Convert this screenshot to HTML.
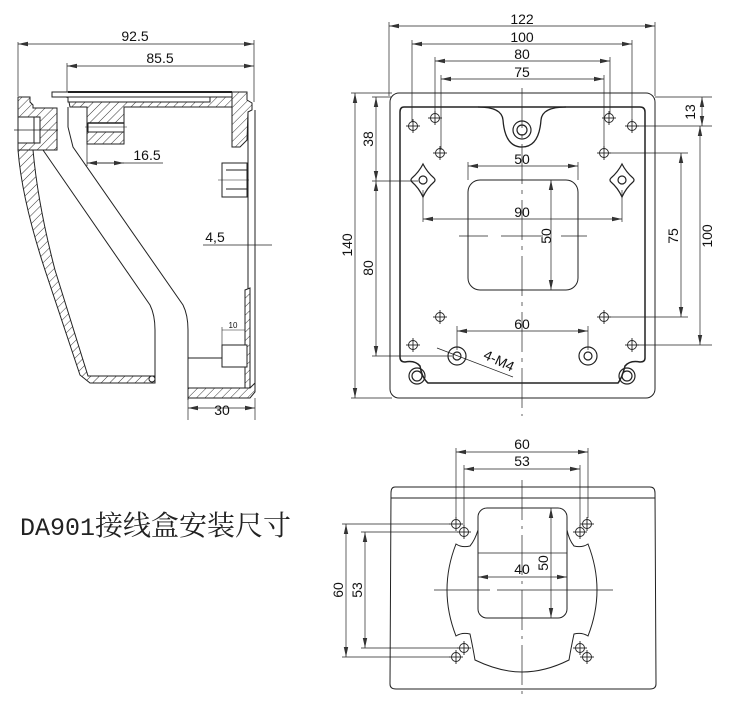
<!DOCTYPE html>
<html><head><meta charset="utf-8"><style>
html,body{margin:0;padding:0;background:#fff;width:730px;height:717px;overflow:hidden}
svg{display:block}
text{font-family:"Liberation Sans",sans-serif;font-size:14px;fill:#111}
</style></head><body>
<svg width="730" height="717" viewBox="0 0 730 717" xmlns="http://www.w3.org/2000/svg">
<defs>
<pattern id="h" width="6" height="6" patternUnits="userSpaceOnUse" patternTransform="rotate(45)">
<rect width="6" height="6" fill="#fff"/><line x1="0" y1="0" x2="0" y2="6" stroke="#222" stroke-width="0.9"/></pattern>
<marker id="a" markerWidth="10" markerHeight="6" refX="10" refY="3" orient="auto-start-reverse" markerUnits="userSpaceOnUse"><path d="M0,0.8 L10,3 L0,5.2" fill="#333"/></marker>
<g id="hl" stroke="#222" stroke-width="0.9" fill="none"><circle r="4.5"/><line x1="-7" y1="0" x2="7" y2="0"/><line x1="0" y1="-7" x2="0" y2="7"/></g>
</defs>
<g stroke="#222" stroke-width="1" fill="none">
<!-- ===== LEFT SIDE VIEW ===== -->
<line x1="18" y1="42" x2="18" y2="96" stroke-width="0.7"/>
<line x1="67" y1="63" x2="67" y2="98" stroke-width="0.7"/>
<line x1="254" y1="40" x2="254" y2="102" stroke-width="0.7"/>
<line x1="18" y1="44" x2="254" y2="44" marker-start="url(#a)" marker-end="url(#a)" stroke-width="0.7"/>
<line x1="67" y1="66" x2="254" y2="66" marker-start="url(#a)" marker-end="url(#a)" stroke-width="0.7"/>
<rect x="52" y="92" width="180" height="5" fill="#fff"/>
<line x1="68" y1="92" x2="232" y2="92" stroke-width="2"/>
<path d="M18,97 L30,97 L30,102 L33,105 L33,108 L57,108 L57,150 L18,150 Z" fill="url(#h)"/>
<rect x="18" y="117" width="22" height="26" fill="#fff"/>
<line x1="34" y1="117" x2="34" y2="143"/>
<line x1="14" y1="130" x2="58" y2="130" stroke-width="0.7"/>
<path d="M18,150 Q22,200 45,270 L80,375 L90,383 L155,383 L155,376 L88,376 L55,270 Q38,205 33,150 Z" fill="url(#h)"/>
<circle cx="152" cy="379" r="3" fill="#fff"/>
<path d="M43,150 L150,305 Q155,315 155,330 L155,376"/>
<path d="M68,97 L232,97 L232,107 L124,107 L124,144 L87,144 L87,107 L70,107 Z" fill="url(#h)"/>
<rect x="68" y="97" width="142" height="5" fill="#fff"/>
<line x1="68" y1="102" x2="210" y2="102"/>
<rect x="88" y="123" width="36" height="9" fill="#fff"/>
<line x1="88" y1="123" x2="124" y2="123" stroke-width="1.5"/>
<line x1="85" y1="127" x2="127" y2="127" stroke-width="0.6"/>
<path d="M68,107 L68,127 L73,147 L183,305 Q188,315 188,330 L188,400"/>
<path d="M232,92 L247,92 L247,100 L252,103 L252,110 L248,112 L247,140 L240,147 L232,147 Z" fill="url(#h)"/>
<line x1="248" y1="112" x2="248" y2="387"/>
<line x1="255" y1="110" x2="255" y2="385"/>
<path d="M245,290 L250,288 L250,397 L245,397 Z" fill="url(#h)"/>
<path d="M188,388 L250,388 L255,383 L255,392 L250,398 L188,398 Z" fill="url(#h)"/>
<rect x="222" y="163" width="25" height="34" fill="#fff"/>
<line x1="226" y1="170" x2="247" y2="170"/><line x1="226" y1="189" x2="247" y2="189"/>
<line x1="218" y1="180" x2="249" y2="180" stroke-width="0.6"/>
<rect x="222" y="345" width="25" height="22" fill="#fff"/>
<line x1="188" y1="358" x2="222" y2="358"/>
<line x1="222" y1="327" x2="222" y2="345" stroke-width="0.6"/>
<line x1="222" y1="330" x2="245" y2="330" stroke-width="0.6"/>
<line x1="87" y1="144" x2="87" y2="166" stroke-width="0.7"/>
<line x1="87" y1="163" x2="163" y2="163" stroke-width="0.7"/>
<line x1="87" y1="163" x2="124" y2="163" marker-start="url(#a)" marker-end="url(#a)" stroke-width="0.7"/>
<line x1="203" y1="245" x2="272" y2="245" stroke-width="0.7"/>
<line x1="188" y1="398" x2="188" y2="420" stroke-width="0.7"/>
<line x1="255" y1="398" x2="255" y2="420" stroke-width="0.7"/>
<line x1="188" y1="408" x2="255" y2="408" marker-start="url(#a)" marker-end="url(#a)" stroke-width="0.7"/>

<!-- ===== TOP RIGHT VIEW ===== -->
<g stroke-width="0.7">
<line x1="389" y1="22" x2="389" y2="96"/><line x1="655" y1="22" x2="655" y2="96"/>
<line x1="389" y1="26" x2="655" y2="26" marker-start="url(#a)" marker-end="url(#a)"/>
<line x1="412" y1="40" x2="412" y2="122"/><line x1="632" y1="40" x2="632" y2="122"/>
<line x1="412" y1="44" x2="632" y2="44" marker-start="url(#a)" marker-end="url(#a)"/>
<line x1="435" y1="57" x2="435" y2="114"/><line x1="610" y1="57" x2="610" y2="114"/>
<line x1="435" y1="61" x2="610" y2="61" marker-start="url(#a)" marker-end="url(#a)"/>
<line x1="441" y1="75" x2="441" y2="150"/><line x1="604" y1="75" x2="604" y2="150"/>
<line x1="441" y1="79" x2="604" y2="79" marker-start="url(#a)" marker-end="url(#a)"/>
<line x1="351" y1="93" x2="392" y2="93"/><line x1="351" y1="398" x2="392" y2="398"/>
<line x1="355" y1="93" x2="355" y2="398" marker-start="url(#a)" marker-end="url(#a)"/>
<line x1="372" y1="97" x2="392" y2="97"/>
<line x1="372" y1="181" x2="418" y2="181"/>
<line x1="372" y1="356" x2="452" y2="356"/>
<line x1="376" y1="97" x2="376" y2="181" marker-start="url(#a)" marker-end="url(#a)"/>
<line x1="376" y1="181" x2="376" y2="356" marker-start="url(#a)" marker-end="url(#a)"/>
<line x1="655" y1="97" x2="712" y2="97"/>
<line x1="637" y1="126" x2="712" y2="126"/>
<line x1="609" y1="153" x2="688" y2="153"/>
<line x1="609" y1="317" x2="688" y2="317"/>
<line x1="637" y1="345" x2="712" y2="345"/>
<line x1="702" y1="97" x2="702" y2="126" marker-start="url(#a)" marker-end="url(#a)"/>
<line x1="700" y1="126" x2="700" y2="345" marker-start="url(#a)" marker-end="url(#a)"/>
<line x1="681" y1="153" x2="681" y2="317" marker-start="url(#a)" marker-end="url(#a)"/>
<line x1="468" y1="162" x2="468" y2="180"/><line x1="578" y1="162" x2="578" y2="180"/>
<line x1="468" y1="166" x2="578" y2="166" marker-start="url(#a)" marker-end="url(#a)"/>
<line x1="423" y1="190" x2="423" y2="222"/><line x1="622" y1="190" x2="622" y2="222"/>
<line x1="423" y1="219" x2="622" y2="219" marker-start="url(#a)" marker-end="url(#a)"/>
<line x1="551" y1="180" x2="551" y2="290" marker-start="url(#a)" marker-end="url(#a)"/>
<line x1="457" y1="326" x2="457" y2="350"/><line x1="588" y1="326" x2="588" y2="350"/>
<line x1="457" y1="331" x2="588" y2="331" marker-start="url(#a)" marker-end="url(#a)"/>
<line x1="437" y1="348" x2="513" y2="377"/>
<line x1="522" y1="88" x2="522" y2="416" stroke-dasharray="40,6,4,6"/>
<line x1="459" y1="236" x2="488" y2="236"/><line x1="501" y1="236" x2="543" y2="236"/><line x1="561" y1="236" x2="587" y2="236"/>
</g>
<rect x="390" y="93" width="265" height="305" rx="9"/>
<path d="M404,107 L640,107 Q645,107 645,112 L645,358 Q645,362 640,362 Q630,360 625,366 Q622,378 618,383 L428,383 Q422,378 420,366 Q415,360 405,362 Q400,362 400,357 L400,112 Q400,107 404,107 Z" stroke-width="1.5"/>
<path d="M478,107 Q502,107 503,120 Q505,147 522,147 Q539,147 541,120 Q542,107 566,107" stroke-width="1.3"/>
<rect x="468" y="180" width="110" height="110" rx="12"/>
<g stroke-width="1.2">
<circle cx="522" cy="130" r="9"/><circle cx="522" cy="130" r="5"/>
<circle cx="417" cy="376" r="8"/><circle cx="417" cy="376" r="5"/>
<circle cx="627" cy="376" r="8"/><circle cx="627" cy="376" r="5"/>
<circle cx="457" cy="356" r="9"/><circle cx="457" cy="356" r="4"/>
<circle cx="588" cy="356" r="9"/><circle cx="588" cy="356" r="4"/>
<path d="M423,164 Q427,172 434,178 Q436,180 434,182 Q427,188 423,197 Q419,188 412,182 Q410,180 412,178 Q419,172 423,164Z"/><circle cx="423" cy="180" r="4"/>
<path d="M622,164 Q626,172 633,178 Q635,180 633,182 Q626,188 622,197 Q618,188 611,182 Q609,180 611,178 Q618,172 622,164Z"/><circle cx="622" cy="180" r="4"/>
</g>
<use href="#hl" x="413" y="126"/><use href="#hl" x="435" y="118"/><use href="#hl" x="440" y="153"/>
<use href="#hl" x="609" y="118"/><use href="#hl" x="632" y="126"/><use href="#hl" x="604" y="153"/>
<use href="#hl" x="440" y="317"/><use href="#hl" x="604" y="317"/>
<use href="#hl" x="413" y="345"/><use href="#hl" x="632" y="345"/>
<use href="#hl" x="456" y="524"/><use href="#hl" x="464" y="532"/>
<use href="#hl" x="587" y="524"/><use href="#hl" x="580" y="532"/>
<use href="#hl" x="464" y="648"/><use href="#hl" x="456" y="657"/>
<use href="#hl" x="580" y="648"/><use href="#hl" x="587" y="657"/>

<!-- ===== BOTTOM VIEW ===== -->
<g stroke-width="0.7">
<line x1="456" y1="448" x2="456" y2="518"/><line x1="588" y1="448" x2="588" y2="518"/>
<line x1="456" y1="452" x2="588" y2="452" marker-start="url(#a)" marker-end="url(#a)"/>
<line x1="464" y1="465" x2="464" y2="526"/><line x1="580" y1="465" x2="580" y2="526"/>
<line x1="464" y1="469" x2="580" y2="469" marker-start="url(#a)" marker-end="url(#a)"/>
<line x1="342" y1="524" x2="450" y2="524"/><line x1="342" y1="657" x2="450" y2="657"/>
<line x1="346" y1="524" x2="346" y2="657" marker-start="url(#a)" marker-end="url(#a)"/>
<line x1="361" y1="532" x2="458" y2="532"/><line x1="361" y1="648" x2="458" y2="648"/>
<line x1="365" y1="532" x2="365" y2="648" marker-start="url(#a)" marker-end="url(#a)"/>
<line x1="478" y1="577" x2="567" y2="577" marker-start="url(#a)" marker-end="url(#a)"/>
<line x1="551" y1="508" x2="551" y2="618" marker-start="url(#a)" marker-end="url(#a)"/>
<line x1="478" y1="553" x2="567" y2="553"/>
<line x1="434" y1="590" x2="490" y2="590"/><line x1="497" y1="590" x2="613" y2="590"/>
<line x1="522" y1="480" x2="522" y2="698" stroke-dasharray="40,6,3,6"/>
</g>
<path d="M395,487 L650,487 Q655,487 655,493 L656,684 Q656,689 650,689 L396,689 Q390,689 390,684 L391,493 Q391,487 395,487Z"/>
<line x1="391" y1="498" x2="655" y2="498"/>
<rect x="478" y="508" width="89" height="110" rx="9"/>
<path d="M478,530 Q475,540 470,546 Q462,548 456,544 Q438,590 456,636 Q462,632 470,634 Q473,648 475,660 Q500,672 522,672 Q545,672 569,660 Q571,648 574,634 Q582,632 588,636 Q606,590 588,544 Q582,548 574,546 Q569,540 567,530"/>
</g>

<text x="135" y="41" text-anchor="middle">92.5</text>
<text x="160" y="63" text-anchor="middle">85.5</text>
<text x="147" y="160" text-anchor="middle">16.5</text>
<text x="215" y="242" text-anchor="middle">4,5</text>
<text x="233" y="328" text-anchor="middle" style="font-size:8px">10</text>
<text x="222" y="415" text-anchor="middle">30</text>
<text x="522" y="24" text-anchor="middle">122</text>
<text x="522" y="42" text-anchor="middle">100</text>
<text x="522" y="59" text-anchor="middle">80</text>
<text x="522" y="77" text-anchor="middle">75</text>
<text x="522" y="164" text-anchor="middle">50</text>
<text x="522" y="217" text-anchor="middle">90</text>
<text x="522" y="329" text-anchor="middle">60</text>
<text transform="translate(551,236) rotate(-90)" text-anchor="middle">50</text>
<text transform="translate(352,245) rotate(-90)" text-anchor="middle">140</text>
<text transform="translate(373,139) rotate(-90)" text-anchor="middle">38</text>
<text transform="translate(373,268) rotate(-90)" text-anchor="middle">80</text>
<text transform="translate(695,112) rotate(-90)" text-anchor="middle">13</text>
<text transform="translate(712,236) rotate(-90)" text-anchor="middle">100</text>
<text transform="translate(678,236) rotate(-90)" text-anchor="middle">75</text>
<text transform="translate(497,365) rotate(25)" text-anchor="middle">4-M4</text>
<text x="522" y="449" text-anchor="middle">60</text>
<text x="522" y="466" text-anchor="middle">53</text>
<text x="522" y="574" text-anchor="middle">40</text>
<text transform="translate(548,563) rotate(-90)" text-anchor="middle">50</text>
<text transform="translate(343,590) rotate(-90)" text-anchor="middle">60</text>
<text transform="translate(362,590) rotate(-90)" text-anchor="middle">53</text>
<text x="20" y="535" style="font-family:'Liberation Mono','Noto Serif CJK SC',serif;font-size:25px;fill:#222">DA901<tspan style="font-family:'Noto Serif CJK SC',serif;font-size:28px">接线盒安装尺寸</tspan></text>
</svg>
</body></html>
